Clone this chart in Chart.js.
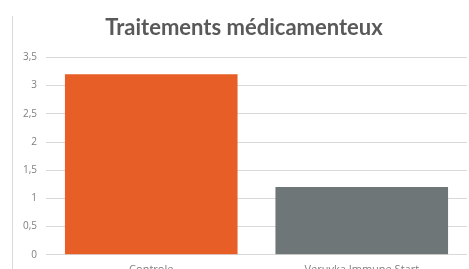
<!DOCTYPE html>
<html>
<head>
<meta charset="utf-8">
<script src="https://cdn.jsdelivr.net/npm/chart.js@4/dist/chart.umd.min.js"></script>
<style>
    html, body { margin: 0; padding: 0; background: #ffffff; overflow: hidden; }
    .wrap { width: 469px; height: 284px; position: relative; }
</style>
</head>
<body>
<div class="wrap"><canvas id="treatmentChart" width="469" height="284"></canvas></div>
<script>
// Données du graphique
const categories = ['Controle', 'Veruvka Immune Start'];
const values = [3.2, 1.2];
const barColors = ['#E85E27', '#6F7678'];
const yTicks = [0, 0.5, 1, 1.5, 2, 2.5, 3, 3.5];

// Trait vertical gris à gauche (bord du cadre)
const frameLine = {
    id: 'frameLine',
    beforeDraw(chart) {
        const ctx = chart.ctx;
        ctx.save();
        ctx.strokeStyle = '#d9d9d9';
        ctx.lineWidth = 1;
        ctx.beginPath();
        ctx.moveTo(12.5, 16);
        ctx.lineTo(12.5, chart.height);
        ctx.stroke();
        ctx.restore();
    }
};

const ctx = document.getElementById('treatmentChart').getContext('2d');
new Chart(ctx, {
    type: 'bar',
    data: {
        labels: categories,
        datasets: [{
            data: values,
            backgroundColor: barColors,
            borderWidth: 0,
            barPercentage: 0.82,
            categoryPercentage: 1
        }]
    },
    options: {
        responsive: false,
        animation: false,
        layout: {
            padding: { left: 21, right: 2, top: 15, bottom: 0 }
        },
        plugins: {
            legend: { display: false },
            tooltip: { enabled: false },
            title: {
                display: true,
                text: 'Traitements médicamenteux',
                color: '#595959',
                font: { family: 'Lato', size: 22, weight: 'bold' },
                padding: { top: 0, bottom: 16 }
            }
        },
        scales: {
            y: {
                min: 0,
                max: yTicks[yTicks.length - 1],
                afterBuildTicks(axis) {
                    axis.ticks = yTicks.map(v => ({ value: v }));
                },
                afterFit(axis) {
                    axis.width = 25;
                },
                border: { display: false },
                grid: { color: '#d9d9d9', drawTicks: false },
                ticks: {
                    color: '#7f7f7f',
                    padding: 9,
                    font: { family: 'Open Sans', size: 10 },
                    callback: v => String(v).replace('.', ',')
                }
            },
            x: {
                border: { display: false },
                grid: { display: false, drawTicks: false },
                ticks: {
                    color: '#7f7f7f',
                    padding: 8,
                    font: { family: 'Open Sans', size: 11 }
                }
            }
        }
    },
    plugins: [frameLine]
});
</script>
</body>
</html>
